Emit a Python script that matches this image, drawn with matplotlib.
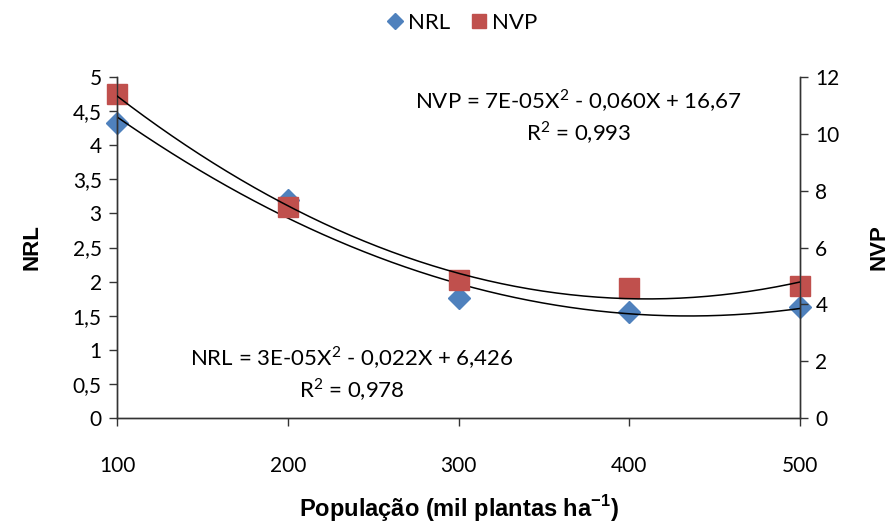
import numpy as np
import matplotlib.pyplot as plt
from matplotlib.ticker import FuncFormatter, MultipleLocator

plt.rcParams['font.family'] = ['Lato', 'DejaVu Sans']
plt.rcParams['mathtext.fontset'] = 'custom'
plt.rcParams['mathtext.rm'] = 'Lato'
plt.rcParams['mathtext.bf'] = 'Liberation Sans:bold'

# population (thousand plants per ha)
populacao = [100, 200, 300, 400, 500]
nrl = [4.32, 3.19, 1.76, 1.55, 1.63]
nvp = [11.40, 7.41, 4.86, 4.57, 4.64]

eq_nvp = 'NVP = 7E-05X$^2$ - 0,060X + 16,67\nR$^2$ = 0,993'
eq_nrl = 'NRL = 3E-05X$^2$ - 0,022X + 6,426\nR$^2$ = 0,978'

blue = '#4F81BD'
red = '#C0504D'


def comma(v, pos):
    s = ('%g' % v)
    return s.replace('.', ',')


fig = plt.figure(figsize=(8.94, 5.27), dpi=100)
ax = fig.add_axes([0.1309, 0.2068, 0.7640, 0.6471])
ax2 = ax.twinx()

# second order trend lines
xs = np.linspace(100, 500, 200)
c_nrl = np.polyfit(populacao, nrl, 2)
c_nvp = np.polyfit(populacao, nvp, 2)

ax.plot(populacao, nrl, linestyle='none', marker='D', markersize=11.5,
        color=blue, zorder=2, label='NRL', clip_on=False)
ax.plot(xs, np.polyval(c_nrl, xs), color='black', lw=1.1, zorder=4)
ax2.plot(populacao, nvp, linestyle='none', marker='s', markersize=14,
         color=red, zorder=2, label='NVP', clip_on=False)
ax2.plot(xs, np.polyval(c_nvp, xs), color='black', lw=1.1, zorder=4)

ax.set_xlim(100, 500)
ax.set_ylim(0, 5)
ax2.set_ylim(0, 12)
ax.xaxis.set_major_locator(MultipleLocator(100))
ax.yaxis.set_major_locator(MultipleLocator(0.5))
ax2.yaxis.set_major_locator(MultipleLocator(2))
ax.yaxis.set_major_formatter(FuncFormatter(comma))

for a in (ax, ax2):
    a.spines['top'].set_visible(False)
    for s in a.spines.values():
        s.set_linewidth(1.0)
        s.set_color('#333333')
    a.tick_params(direction='out', length=6, width=1, labelsize=15,
                  colors='#333333', labelcolor='black')
ax.tick_params(axis='x', pad=21)
ax.tick_params(axis='y', pad=5)
ax2.tick_params(axis='y', pad=5)

bold_family = ['Liberation Sans', 'DejaVu Sans']
ax.set_ylabel('NRL', fontsize=16, fontweight='bold',
              family=bold_family, labelpad=22)
ax2.set_ylabel('NVP', fontsize=16, fontweight='bold',
               family=bold_family, labelpad=21)
ax.set_xlabel(r'População (mil plantas ha$^{\mathbf{-1}}$)', fontsize=17,
              fontweight='bold', family=bold_family, labelpad=13)

ax.text(0.676, 0.884, eq_nvp, transform=ax.transAxes, ha='center', va='center',
        fontsize=16, linespacing=1.25)
ax.text(0.344, 0.129, eq_nrl, transform=ax.transAxes, ha='center', va='center',
        fontsize=16, linespacing=1.25)

h1, l1 = ax.get_legend_handles_labels()
h2, l2 = ax2.get_legend_handles_labels()
fig.legend(h1 + h2, l1 + l2, loc='center', bbox_to_anchor=(0.515, 0.957),
           ncol=2, frameon=False, fontsize=16, handletextpad=0.1,
           columnspacing=0.8, markerscale=0.75, handlelength=1.0)

fig.savefig('out.png', dpi=100)
